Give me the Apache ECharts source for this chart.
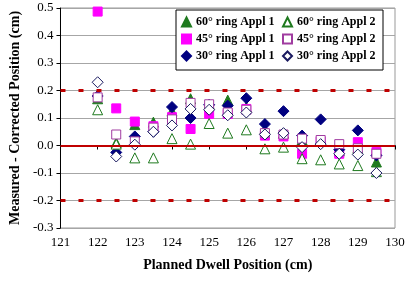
<!DOCTYPE html>
<html>
  <head>
    <meta charset="utf-8" />
    <title>Measured - Corrected Position</title>
    <script src="https://cdn.jsdelivr.net/npm/echarts@6/dist/echarts.min.js"></script>
    <style>
      body { margin: 0; background: #fff; }
      #main { width: 409px; height: 284px; }
    </style>
  </head>
  <body>
    <div id="main"></div>
    <script type="text/javascript">
      // planned dwell positions (cm)
      var positions = [122, 122.5, 123, 123.5, 124, 124.5, 125, 125.5, 126, 126.5, 127, 127.5, 128, 128.5, 129, 129.5];

      var ring60a1 = [0.17, 0.01, 0.076, 0.085, 0.125, 0.17, 0.15, 0.165, 0.14, 0.06, 0.045, 0.02, 0.02, -0.02, -0.01, -0.06];
      var ring45a1 = [0.487, 0.135, 0.087, 0.07, 0.103, 0.06, 0.115, 0.115, 0.133, 0.036, 0.033, -0.03, 0.015, -0.03, 0.012, -0.024];
      var ring30a1 = [0.18, -0.025, 0.033, 0.05, 0.14, 0.1, 0.148, 0.145, 0.172, 0.078, 0.125, 0.036, 0.095, -0.015, 0.055, -0.036];
      var ring60a2 = [0.13, 0.005, -0.045, -0.045, 0.025, 0.005, 0.08, 0.045, 0.057, -0.012, -0.006, -0.048, -0.052, -0.067, -0.073, -0.095];
      var ring45a2 = [0.175, 0.04, 0.015, 0.065, 0.095, 0.155, 0.15, 0.12, 0.13, 0.045, 0.04, 0.025, 0.02, 0.005, -0.01, -0.03];
      var ring30a2 = [0.23, -0.04, 0.003, 0.05, 0.073, 0.133, 0.13, 0.11, 0.12, 0.04, 0.045, -0.006, 0.005, -0.03, -0.033, -0.1];

      var toleranceLines = [0.2, -0.2];
      var serif = "Liberation Serif";

      function pts(vals) {
        return positions.map(function (x, i) { return [x, vals[i]]; });
      }

      function scatter(name, vals, symbol, size, fill, stroke) {
        return {
          name: name,
          type: "scatter",
          symbol: symbol,
          symbolSize: size,
          itemStyle: { color: fill, borderColor: stroke, borderWidth: 1, opacity: 1 },
          data: pts(vals),
          z: 2
        };
      }

      var myChart = echarts.init(document.getElementById("main"));

      var legendText = { fontFamily: serif, fontSize: 12, fontWeight: "bold", color: "#000" };

      var option = {
        animation: false,
        backgroundColor: "#fff",
        grid: { left: 51, right: 14, top: 8, bottom: 56, show: true, borderColor: "#999", borderWidth: 1 },
        legend: [
          {
            orient: "vertical", left: 181, top: 16, itemGap: 5, itemWidth: 9, itemHeight: 9,
            textStyle: legendText, padding: 0, z: 6,
            data: ["60° ring Appl 1", "45° ring Appl 1", "30° ring Appl 1"]
          },
          {
            orient: "vertical", left: 282, top: 16, itemGap: 5, itemWidth: 9, itemHeight: 9,
            textStyle: legendText, padding: 0, z: 6,
            data: ["60° ring Appl 2", "45° ring Appl 2", "30° ring Appl 2"]
          }
        ],
        graphic: [
          {
            type: "rect",
            shape: { x: 176, y: 10, width: 207, height: 60 },
            style: { fill: "#fff", stroke: "#000", lineWidth: 1 },
            z: 4
          }
        ],
        xAxis: {
          type: "value", min: 121, max: 130, interval: 1,
          name: "Planned Dwell Position (cm)", nameLocation: "middle", nameGap: 30,
          nameTextStyle: { fontFamily: serif, fontSize: 14, fontWeight: "bold", color: "#000" },
          axisLine: { lineStyle: { color: "#000" } },
          axisTick: { show: true, length: 4, lineStyle: { color: "#000" } },
          axisLabel: { fontFamily: serif, fontSize: 13, color: "#000", margin: 8 },
          splitLine: { show: false }
        },
        yAxis: {
          type: "value", min: -0.3, max: 0.5, interval: 0.1,
          name: "Measured - Corrected Position (cm)", nameLocation: "middle", nameGap: 37,
          nameTextStyle: { fontFamily: serif, fontSize: 14, fontWeight: "bold", color: "#000" },
          axisLine: { show: true, lineStyle: { color: "#000" } },
          axisTick: { show: true, length: 4, lineStyle: { color: "#000" } },
          axisLabel: {
            fontFamily: serif, fontSize: 13, color: "#000", margin: 7,
            formatter: function (v) { return v.toFixed(1); }
          },
          splitLine: { lineStyle: { color: "#a6a6a6", width: 1 } }
        },
        series: [
          scatter("60° ring Appl 1", ring60a1, "triangle", 10, "#1f7a1f", "#1f7a1f"),
          scatter("45° ring Appl 1", ring45a1, "rect", 9, "#ff00ff", "#ff00ff"),
          scatter("30° ring Appl 1", ring30a1, "diamond", 11, "#000080", "#000080"),
          scatter("60° ring Appl 2", ring60a2, "triangle", 10, "#fff", "#1f7a1f"),
          scatter("45° ring Appl 2", ring45a2, "rect", 9, "#fff", "#a03ca0"),
          scatter("30° ring Appl 2", ring30a2, "diamond", 11, "#fff", "#1a1a60"),
          {
            type: "line",
            data: [],
            silent: true,
            markLine: {
              symbol: "none",
              silent: true,
              label: { show: false },
              data: [
                { yAxis: 0, lineStyle: { color: "#c00000", width: 2, type: "solid" } }
              ].concat(toleranceLines.map(function (v) {
                return { yAxis: v, lineStyle: { color: "#c00000", width: 3, type: [5, 13] } };
              }))
            },
            z: 1
          }
        ]
      };

      myChart.setOption(option);
    </script>
  </body>
</html>
